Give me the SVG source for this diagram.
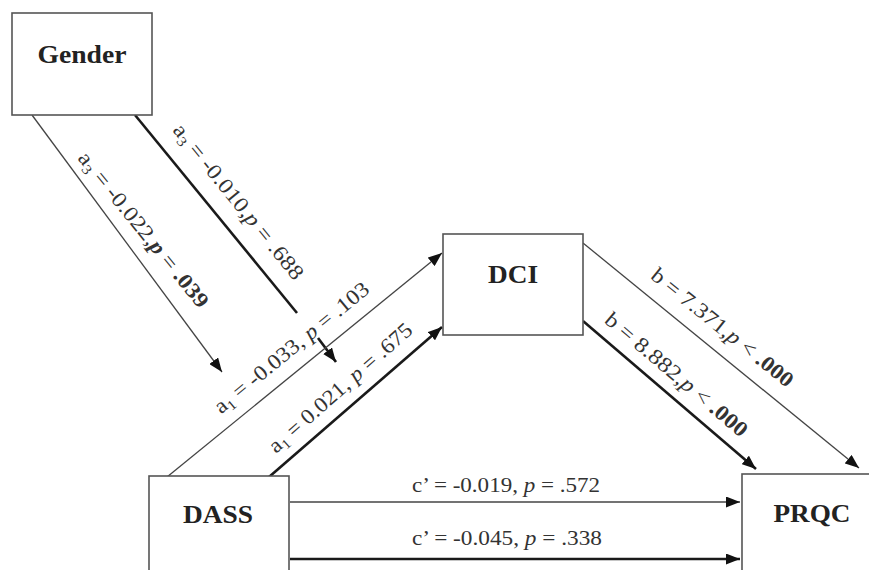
<svg xmlns="http://www.w3.org/2000/svg" width="869" height="570" viewBox="0 0 869 570">
<style>
.box{fill:#fff;stroke:#555;stroke-width:1.6}
.node{font-family:"Liberation Serif","Times New Roman",serif;font-weight:bold;font-size:25px;fill:#222;text-anchor:middle}
.lbl{font-family:"Liberation Serif","Times New Roman",serif;font-size:21.5px;fill:#333;text-anchor:middle}
.thin{stroke:#444;stroke-width:1.3;fill:none}
.thick{stroke:#1a1a1a;stroke-width:2.6;fill:none}
.b{font-weight:bold}
.i{font-style:italic}
.sub{font-size:14px}
</style>
<defs>
<marker id="ah" markerUnits="userSpaceOnUse" markerWidth="14" markerHeight="11" refX="14" refY="5.5" orient="auto">
<path d="M0,0 L14,5.5 L0,11 z" fill="#111"/>
</marker>
</defs>
<rect width="869" height="570" fill="#fff"/>
<g id="connectors">
<line class="thin" x1="32" y1="115" x2="222" y2="372" marker-end="url(#ah)"/>
<line class="thick" x1="135" y1="115" x2="297" y2="313"/>
<line class="thick" x1="318" y1="338" x2="336" y2="362" marker-end="url(#ah)"/>
<line class="thin" x1="167" y1="477" x2="442" y2="253" marker-end="url(#ah)"/>
<line class="thick" x1="269" y1="477" x2="442" y2="327" marker-end="url(#ah)"/>
<line class="thin" x1="583" y1="243" x2="859" y2="468" marker-end="url(#ah)"/>
<line class="thick" x1="583" y1="321" x2="756" y2="469" marker-end="url(#ah)"/>
<line class="thin" x1="290" y1="502" x2="740" y2="502" marker-end="url(#ah)"/>
<line class="thick" x1="290" y1="559" x2="740" y2="559" marker-end="url(#ah)"/>
</g>
<g id="labels">
<text class="lbl" transform="translate(138,234) rotate(51)" textLength="194" lengthAdjust="spacingAndGlyphs">a<tspan class="sub" dy="4">3</tspan><tspan dy="-4"> = -0.022,</tspan><tspan class="b i">p</tspan> = <tspan class="b">.039</tspan></text>
<text class="lbl" transform="translate(233,206) rotate(51)" textLength="194" lengthAdjust="spacingAndGlyphs">a<tspan class="sub" dy="4">3</tspan><tspan dy="-4"> = -0.010,</tspan><tspan class="i">p</tspan> = .688</text>
<text class="lbl" transform="translate(296,353) rotate(-39.4)" textLength="194" lengthAdjust="spacingAndGlyphs">a<tspan class="sub" dy="4">1</tspan><tspan dy="-4"> = -0.033, </tspan><tspan class="i">p</tspan> = .103</text>
<text class="lbl" transform="translate(345,393) rotate(-41.5)" textLength="184" lengthAdjust="spacingAndGlyphs">a<tspan class="sub" dy="4">1</tspan><tspan dy="-4"> = 0.021, </tspan><tspan class="i">p</tspan> = .675</text>
<text class="lbl" transform="translate(718,333) rotate(38.8)" textLength="176" lengthAdjust="spacingAndGlyphs">b = 7.371,<tspan class="i">p</tspan> &lt; <tspan class="b">.000</tspan></text>
<text class="lbl" transform="translate(672,380) rotate(40.3)" textLength="180" lengthAdjust="spacingAndGlyphs">b = 8.882,<tspan class="i">p</tspan> &lt; <tspan class="b">.000</tspan></text>
<text class="lbl" x="506" y="492" textLength="188" lengthAdjust="spacingAndGlyphs">c’ = -0.019, <tspan class="i">p</tspan> = .572</text>
<text class="lbl" x="507" y="545" textLength="190" lengthAdjust="spacingAndGlyphs">c’ = -0.045, <tspan class="i">p</tspan> = .338</text>
</g>
<g id="gender">
<rect class="box" x="12" y="13" width="140" height="102"/>
<text class="node" x="82" y="63" textLength="89" lengthAdjust="spacingAndGlyphs">Gender</text>
</g>
<g id="dci">
<rect class="box" x="443" y="234" width="140" height="101"/>
<text class="node" x="513" y="283" textLength="50" lengthAdjust="spacingAndGlyphs">DCI</text>
</g>
<g id="dass">
<rect class="box" x="149" y="476" width="140" height="110"/>
<text class="node" x="218" y="523" textLength="70" lengthAdjust="spacingAndGlyphs">DASS</text>
</g>
<g id="prqc">
<rect class="box" x="742" y="474" width="140" height="110"/>
<text class="node" x="812" y="522" textLength="77" lengthAdjust="spacingAndGlyphs">PRQC</text>
</g>
</svg>
